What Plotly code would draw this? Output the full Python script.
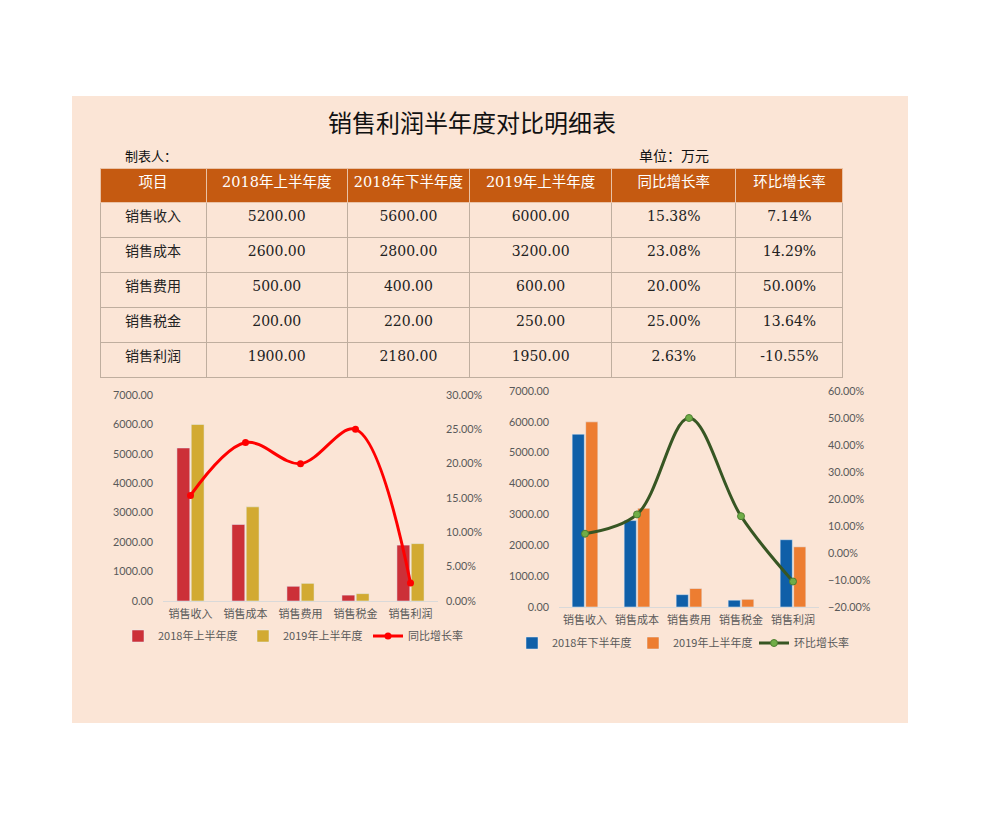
import plotly.graph_objects as go

# ---------------- data ----------------
categories = ["销售收入", "销售成本", "销售费用", "销售税金", "销售利润"]
h1_2018 = [5200, 2600, 500, 200, 1900]
h2_2018 = [5600, 2800, 400, 220, 2180]
h1_2019 = [6000, 3200, 600, 250, 1950]
yoy = [0.1538, 0.2308, 0.2000, 0.2500, 0.0263]
mom = [0.0714, 0.1429, 0.5000, 0.1364, -0.1055]
headers = ["项目", "2018年上半年度", "2018年下半年度", "2019年上半年度", "同比增长率", "环比增长率"]
title_text = "销售利润半年度对比明细表"

# page body has an 8px margin; figure is sized to fit inside the window
OFF = 8
W, H = 965, 804
def px(x):
    return (x - OFF) / W
def py(y):
    return 1 - (y - OFF) / H

PEACH = "#FBE5D6"
HEAD = "#C55A11"
TICK = "#595959"
CJK = "Noto Sans CJK SC"
SERIF = "DejaVu Serif, Noto Sans CJK SC"

fig = go.Figure()

# ---------------- table ----------------
cells = [
    categories,
    [f"{v:.2f}" for v in h1_2018],
    [f"{v:.2f}" for v in h2_2018],
    [f"{v:.2f}" for v in h1_2019],
    [f"{v*100:.2f}%" for v in yoy],
    [f"{v*100:.2f}%" for v in mom],
]
fig.add_trace(go.Table(
    domain=dict(x=[px(100), px(843)], y=[py(380), py(168)]),
    columnwidth=[106, 141, 122, 142, 124, 107],
    header=dict(values=headers, fill_color=HEAD, height=34, align="center",
                line=dict(color="#E9C2A6", width=1),
                font=dict(family=SERIF, size=14.5, color="white")),
    cells=dict(values=cells, fill_color=PEACH, height=35, align="center",
               line=dict(color="#BFAE9F", width=1),
               font=dict(family=[CJK, SERIF, SERIF, SERIF, SERIF, SERIF], size=14, color="#222222")),
))

# ---------------- left chart ----------------
fig.add_trace(go.Bar(x=categories, y=h1_2018, name="2018年上半年度", marker_color="#CC3038",
                     xaxis="x", yaxis="y", legend="legend"))
fig.add_trace(go.Bar(x=categories, y=h1_2019, name="2019年上半年度", marker_color="#D2AA32",
                     xaxis="x", yaxis="y", legend="legend"))
fig.add_trace(go.Scatter(x=categories, y=yoy, name="同比增长率", mode="lines+markers",
                         line=dict(color="#FF0000", width=3, shape="spline", smoothing=1.0),
                         marker=dict(color="#FF0000", size=7),
                         xaxis="x", yaxis="y2", legend="legend"))

# ---------------- right chart ----------------
fig.add_trace(go.Bar(x=categories, y=h2_2018, name="2018年下半年度", marker_color="#0F5FA8",
                     xaxis="x2", yaxis="y3", legend="legend2"))
fig.add_trace(go.Bar(x=categories, y=h1_2019, name="2019年上半年度", marker_color="#ED7D31",
                     xaxis="x2", yaxis="y3", legend="legend2"))
fig.add_trace(go.Scatter(x=categories, y=mom, name="环比增长率", mode="lines+markers",
                         line=dict(color="#375623", width=3, shape="spline", smoothing=1.0),
                         marker=dict(color="#70AD47", size=7, line=dict(color="#4E7F32", width=1)),
                         xaxis="x2", yaxis="y4", legend="legend2"))

tickfont = dict(family="Lato, Noto Sans CJK SC", size=10.8, color=TICK)
catfont = dict(family=CJK, size=11, color=TICK)

fig.update_layout(
    width=W, height=H,
    margin=dict(l=0, r=0, t=0, b=0, autoexpand=False),
    paper_bgcolor="white",
    plot_bgcolor="rgba(0,0,0,0)",
    barmode="group", bargap=0.48, bargroupgap=0.1,
    showlegend=True,
    xaxis=dict(domain=[px(163), px(438)], anchor="y", showline=True, linecolor="#D9D9D9",
               ticks="", tickfont=catfont, showgrid=False, ticklabelstandoff=3),
    yaxis=dict(domain=[py(601), py(395)], anchor="x", range=[0, 7000], dtick=1000,
               tickformat=".2f", showgrid=False, zeroline=False, tickfont=tickfont,
               ticklabelstandoff=9),
    yaxis2=dict(overlaying="y", anchor="x", side="right", range=[0, 0.30], dtick=0.05,
                tickformat=".2%", showgrid=False, zeroline=False, tickfont=tickfont,
                ticklabelstandoff=7),
    xaxis2=dict(domain=[px(559), px(819)], anchor="y3", showline=True, linecolor="#D9D9D9",
                ticks="", tickfont=catfont, showgrid=False, ticklabelstandoff=3),
    yaxis3=dict(domain=[py(607), py(391)], anchor="x2", range=[0, 7000], dtick=1000,
                tickformat=".2f", showgrid=False, zeroline=False, tickfont=tickfont,
                ticklabelstandoff=9),
    yaxis4=dict(overlaying="y3", anchor="x2", side="right", range=[-0.2, 0.6], dtick=0.1,
                tickformat=".2%", showgrid=False, zeroline=False, tickfont=tickfont,
                ticklabelstandoff=8),
    legend=dict(orientation="h", x=px(118), y=py(636), xanchor="left", yanchor="middle",
                entrywidth=80, entrywidthmode="pixels", bgcolor="rgba(0,0,0,0)",
                font=dict(family=CJK, size=11, color=TICK), traceorder="normal"),
    legend2=dict(orientation="h", x=px(512), y=py(643), xanchor="left", yanchor="middle",
                 entrywidth=76, entrywidthmode="pixels", bgcolor="rgba(0,0,0,0)",
                 font=dict(family=CJK, size=11, color=TICK), traceorder="normal"),
    shapes=[dict(type="rect", xref="paper", yref="paper", x0=px(72), x1=px(908),
                 y0=py(723), y1=py(96), fillcolor=PEACH, line=dict(width=0), layer="below")],
    annotations=[
        dict(text=title_text, xref="paper", yref="paper", x=px(472), y=py(121),
             xanchor="center", yanchor="middle", showarrow=False,
             font=dict(family=CJK, size=24, color="#111111")),
        dict(text="制表人：", xref="paper", yref="paper", x=px(123), y=py(155),
             xanchor="left", yanchor="middle", showarrow=False,
             font=dict(family=CJK, size=13, color="#111111")),
        dict(text="单位：万元", xref="paper", yref="paper", x=px(637), y=py(155),
             xanchor="left", yanchor="middle", showarrow=False,
             font=dict(family=CJK, size=14, color="#111111")),
    ],
)

fig.write_html("out.html")
